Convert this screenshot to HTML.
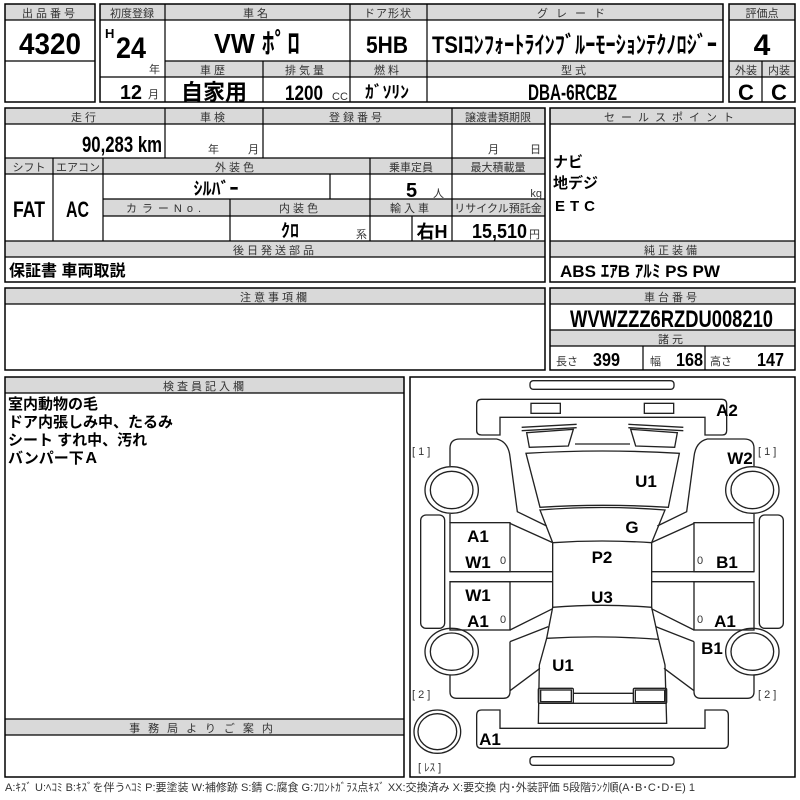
<!DOCTYPE html>
<html><head><meta charset="utf-8"><style>
html,body{margin:0;padding:0;background:#fff;}
svg{display:block}
.h{font-family:"Liberation Sans","Noto Sans CJK JP",sans-serif;font-size:11px;fill:#333;text-anchor:middle;letter-spacing:3px}
.v{font-family:"Liberation Sans Narrow","Liberation Sans","Noto Sans CJK JP",sans-serif;font-weight:bold;fill:#000}
.j{font-family:"Liberation Sans","Noto Sans CJK JP",sans-serif;font-weight:bold;fill:#000}
.s{font-family:"Liberation Sans","Noto Sans CJK JP",sans-serif;font-size:11px;fill:#333}
.c{text-anchor:middle}
.r{text-anchor:end}
.g{fill:#d9d9d9;stroke:none}
.b{fill:none;stroke:#000;stroke-width:1.5}
.l{stroke:#000;stroke-width:1.2}
.car *{fill:none;stroke:#222;stroke-width:4}
.lab{font-family:"Liberation Sans","Noto Sans CJK JP",sans-serif;font-weight:bold;font-size:17px;fill:#000;text-anchor:middle}
</style></head><body>
<svg width="800" height="800" viewBox="0 0 800 800" xmlns="http://www.w3.org/2000/svg">
<!-- Box1 -->
<rect class="g" x="5" y="4" width="90" height="16"/>
<rect class="b" x="5" y="4" width="90" height="98"/>
<line class="l" x1="5" y1="20" x2="95" y2="20"/><line class="l" x1="5" y1="61" x2="95" y2="61"/>
<text class="h" x="50" y="17">出品番号</text>
<text class="v" x="19" y="54" font-size="30" textLength="62" lengthAdjust="spacingAndGlyphs">4320</text>
<!-- Box2 -->
<rect class="g" x="100" y="4" width="623" height="16"/>
<rect class="g" x="165" y="61" width="558" height="16"/>
<rect class="b" x="100" y="4" width="623" height="98"/>
<line class="l" x1="100" y1="20" x2="723" y2="20"/>
<line class="l" x1="165" y1="61" x2="723" y2="61"/>
<line class="l" x1="100" y1="77" x2="723" y2="77"/>
<line class="l" x1="165" y1="4" x2="165" y2="102"/>
<line class="l" x1="350" y1="4" x2="350" y2="102"/>
<line class="l" x1="427" y1="4" x2="427" y2="102"/>
<line class="l" x1="263" y1="61" x2="263" y2="102"/>
<text class="h" x="132" y="17" style="letter-spacing:0">初度登録</text>
<text class="h" x="257" y="17">車名</text>
<text class="h" x="388" y="17" style="letter-spacing:1px">ドア形状</text>
<text class="h" x="575" y="17" style="letter-spacing:8px">グレード</text>
<text class="v" x="105" y="38" font-size="13">H</text>
<text class="v" x="116" y="58" font-size="30" textLength="30" lengthAdjust="spacingAndGlyphs">24</text>
<text class="s" x="149" y="73">年</text>
<text class="v" x="120" y="99" font-size="20" textLength="22" lengthAdjust="spacingAndGlyphs">12</text>
<text class="s" x="148" y="98">月</text>
<text class="v" x="214" y="53" font-size="28" textLength="86" lengthAdjust="spacingAndGlyphs">VW ﾎﾟﾛ</text>
<text class="v" x="366" y="53" font-size="24" textLength="42" lengthAdjust="spacingAndGlyphs">5HB</text>
<text class="v" x="432" y="53" font-size="24" textLength="285" lengthAdjust="spacingAndGlyphs">TSIｺﾝﾌｫｰﾄﾗｲﾝﾌﾞﾙｰﾓｰｼｮﾝﾃｸﾉﾛｼﾞｰ</text>
<text class="h" x="214" y="74">車歴</text>
<text class="h" x="306" y="74">排気量</text>
<text class="h" x="388" y="74">燃料</text>
<text class="h" x="575" y="74">型式</text>
<text class="j c" x="214" y="100" font-size="22">自家用</text>
<text class="v" x="285" y="100" font-size="21" textLength="38" lengthAdjust="spacingAndGlyphs">1200</text>
<text class="s" x="332" y="100" font-size="10">CC</text>
<text class="v" x="365" y="98" font-size="17" textLength="44" lengthAdjust="spacingAndGlyphs">ｶﾞｿﾘﾝ</text>
<text class="v" x="528" y="100" font-size="22" textLength="89" lengthAdjust="spacingAndGlyphs">DBA-6RCBZ</text>
<!-- Box3 -->
<rect class="g" x="729" y="4" width="66" height="16"/>
<rect class="g" x="729" y="61" width="66" height="16"/>
<rect class="b" x="729" y="4" width="66" height="98"/>
<line class="l" x1="729" y1="20" x2="795" y2="20"/><line class="l" x1="729" y1="61" x2="795" y2="61"/><line class="l" x1="729" y1="77" x2="795" y2="77"/>
<line class="l" x1="762" y1="61" x2="762" y2="102"/>
<text class="h" x="762" y="17" style="letter-spacing:0">評価点</text>
<text class="v c" x="762" y="55" font-size="30">4</text>
<text class="h" x="746" y="74" style="letter-spacing:0">外装</text>
<text class="h" x="779" y="74" style="letter-spacing:0">内装</text>
<text class="v c" x="746" y="100" font-size="22">C</text>
<text class="v c" x="779" y="100" font-size="22">C</text>
<!-- Section2 left -->
<rect class="g" x="5" y="108" width="540" height="16"/>
<rect class="g" x="5" y="158" width="540" height="16"/>
<rect class="g" x="103" y="199" width="442" height="17"/>
<rect class="g" x="5" y="241" width="540" height="16"/>
<rect class="b" x="5" y="108" width="540" height="174"/>
<line class="l" x1="5" y1="124" x2="545" y2="124"/>
<line class="l" x1="5" y1="158" x2="545" y2="158"/>
<line class="l" x1="5" y1="174" x2="545" y2="174"/>
<line class="l" x1="103" y1="199" x2="545" y2="199"/>
<line class="l" x1="103" y1="216" x2="545" y2="216"/>
<line class="l" x1="5" y1="241" x2="545" y2="241"/>
<line class="l" x1="5" y1="257" x2="545" y2="257"/>
<line class="l" x1="165" y1="108" x2="165" y2="158"/>
<line class="l" x1="263" y1="108" x2="263" y2="158"/>
<line class="l" x1="452" y1="108" x2="452" y2="241"/>
<line class="l" x1="53" y1="158" x2="53" y2="241"/>
<line class="l" x1="103" y1="158" x2="103" y2="241"/>
<line class="l" x1="370" y1="158" x2="370" y2="241"/>
<line class="l" x1="330" y1="174" x2="330" y2="199"/>
<line class="l" x1="230" y1="199" x2="230" y2="241"/>
<line class="l" x1="412" y1="216" x2="412" y2="241"/>
<text class="h" x="85" y="121">走行</text>
<text class="h" x="214" y="121">車検</text>
<text class="h" x="357" y="121">登録番号</text>
<text class="h" x="498" y="121" style="letter-spacing:0">譲渡書類期限</text>
<text class="v" x="82" y="152" font-size="22" textLength="80" lengthAdjust="spacingAndGlyphs">90,283 km</text>
<text class="s" x="208" y="153">年</text>
<text class="s" x="248" y="153">月</text>
<text class="s" x="488" y="153">月</text>
<text class="s" x="530" y="153">日</text>
<text class="h" x="29" y="171" style="letter-spacing:0">シフト</text>
<text class="h" x="78" y="171" style="letter-spacing:0">エアコン</text>
<text class="h" x="236" y="171">外装色</text>
<text class="h" x="411" y="171" style="letter-spacing:0">乗車定員</text>
<text class="h" x="498" y="171" style="letter-spacing:0">最大積載量</text>
<text class="v" x="13" y="217" font-size="22" textLength="32" lengthAdjust="spacingAndGlyphs">FAT</text>
<text class="v" x="66" y="217" font-size="22" textLength="23" lengthAdjust="spacingAndGlyphs">AC</text>
<text class="v c" x="216" y="195" font-size="18">ｼﾙﾊﾞｰ</text>
<text class="v" x="406" y="197" font-size="20">5</text>
<text class="s" x="433" y="197">人</text>
<text class="s r" x="542" y="197">kg</text>
<text class="h" x="166" y="212" style="letter-spacing:5px">カラーNo.</text>
<text class="h" x="300" y="212">内装色</text>
<text class="h" x="411" y="212">輸入車</text>
<text class="h" x="498" y="212" style="letter-spacing:0">リサイクル預託金</text>
<text class="v c" x="290" y="237" font-size="18">ｸﾛ</text>
<text class="s" x="356" y="238">系</text>
<text class="j c" x="432" y="238" font-size="18">右H</text>
<text class="v" x="472" y="238" font-size="20" textLength="55" lengthAdjust="spacingAndGlyphs">15,510</text>
<text class="s" x="529" y="238">円</text>
<text class="h" x="275" y="254">後日発送部品</text>
<text class="j" x="9" y="276" font-size="16">保証書 車両取説</text>
<!-- Section2 right -->
<rect class="g" x="550" y="108" width="245" height="16"/>
<rect class="g" x="550" y="241" width="245" height="16"/>
<rect class="b" x="550" y="108" width="245" height="174"/>
<line class="l" x1="550" y1="124" x2="795" y2="124"/>
<line class="l" x1="550" y1="241" x2="795" y2="241"/>
<line class="l" x1="550" y1="257" x2="795" y2="257"/>
<text class="h" x="672" y="121" style="letter-spacing:6px">セールスポイント</text>
<text class="j" x="553" y="167" font-size="15" font-weight="normal">ナビ</text>
<text class="j" x="553" y="188" font-size="15">地デジ</text>
<text class="j" x="555" y="211" font-size="15" style="letter-spacing:5px">ETC</text>
<text class="h" x="672" y="254">純正装備</text>
<text class="v" x="560" y="277" font-size="17" textLength="160" lengthAdjust="spacingAndGlyphs">ABS ｴｱB ｱﾙﾐ PS PW</text>
<!-- Section3 -->
<rect class="g" x="5" y="288" width="540" height="16"/>
<rect class="b" x="5" y="288" width="540" height="82"/>
<line class="l" x1="5" y1="304" x2="545" y2="304"/>
<text class="h" x="275" y="301">注意事項欄</text>
<rect class="g" x="550" y="288" width="245" height="16"/>
<rect class="g" x="550" y="330" width="245" height="16"/>
<rect class="b" x="550" y="288" width="245" height="82"/>
<line class="l" x1="550" y1="304" x2="795" y2="304"/>
<line class="l" x1="550" y1="330" x2="795" y2="330"/>
<line class="l" x1="550" y1="346" x2="795" y2="346"/>
<line class="l" x1="643" y1="346" x2="643" y2="370"/>
<line class="l" x1="705" y1="346" x2="705" y2="370"/>
<text class="h" x="672" y="301">車台番号</text>
<text class="v" x="570" y="327" font-size="24" textLength="203" lengthAdjust="spacingAndGlyphs">WVWZZZ6RZDU008210</text>
<text class="h" x="672" y="343">諸元</text>
<text class="s" x="556" y="365">長さ</text>
<text class="v" x="593" y="366" font-size="18" textLength="27" lengthAdjust="spacingAndGlyphs">399</text>
<text class="s" x="650" y="365">幅</text>
<text class="v" x="676" y="366" font-size="18" textLength="27" lengthAdjust="spacingAndGlyphs">168</text>
<text class="s" x="710" y="365">高さ</text>
<text class="v" x="757" y="366" font-size="18" textLength="27" lengthAdjust="spacingAndGlyphs">147</text>
<!-- Section4 -->
<rect class="g" x="5" y="377" width="399" height="16"/>
<rect class="g" x="5" y="719" width="399" height="16"/>
<rect class="b" x="5" y="377" width="399" height="400"/>
<line class="l" x1="5" y1="393" x2="404" y2="393"/>
<line class="l" x1="5" y1="719" x2="404" y2="719"/>
<line class="l" x1="5" y1="735" x2="404" y2="735"/>
<text class="h" x="205" y="390">検査員記入欄</text>
<text class="j" x="8" y="409" font-size="15">室内動物の毛</text>
<text class="j" x="8" y="427" font-size="15">ドア内張しみ中、たるみ</text>
<text class="j" x="8" y="445" font-size="15">シート すれ中、汚れ</text>
<text class="j" x="8" y="463" font-size="15">バンパー下Ａ</text>
<text class="h" x="205" y="732" style="letter-spacing:8px">事務局よりご案内</text>
<rect class="b" x="410" y="377" width="385" height="400"/>
<text class="s" x="5" y="791" font-size="9.5" textLength="690" lengthAdjust="spacingAndGlyphs">A:ｷｽﾞ U:ﾍｺﾐ B:ｷｽﾞを伴うﾍｺﾐ P:要塗装 W:補修跡 S:錆 C:腐食 G:ﾌﾛﾝﾄｶﾞﾗｽ点ｷｽﾞ XX:交換済み X:要交換 内･外装評価 5段階ﾗﾝｸ順(A･B･C･D･E) 1</text>

<!-- Car diagram -->
<svg x="400" y="370" width="400" height="430" viewBox="0 0 1200 1290">
<defs>
<g id="half">
<rect x="62" y="435" width="72" height="340" rx="16"/>
<ellipse cx="155" cy="360" rx="80" ry="70"/><ellipse cx="155" cy="360" rx="64" ry="56"/>
<ellipse cx="155" cy="845" rx="80" ry="70"/><ellipse cx="155" cy="845" rx="64" ry="56"/>
<path d="M150,288 L150,235 Q150,207 180,207 L290,207 Q325,215 330,260 L352,425 L440,468"/>
<path d="M150,432 L150,458"/>
<rect x="150" y="458" width="180" height="147"/>
<path d="M330,460 L458,518"/>
<path d="M150,605 L458,605 M150,635 L458,635"/>
<rect x="150" y="635" width="180" height="145"/>
<path d="M330,780 L458,716"/>
<path d="M330,815 L445,770 M330,815 L330,965 Q330,985 310,985 L170,985 Q150,985 150,965 L150,915 M330,962 L420,895"/>
</g>
</defs>
<g class="car">
<use href="#half"/>
<use href="#half" transform="translate(1212,0) scale(-1,1)"/>
<rect x="390" y="32" width="432" height="26" rx="10"/>
<path d="M245,88 L965,88 Q980,88 980,103 L980,182 Q980,195 967,195 L915,195 L915,142 L300,142 L300,195 L245,195 Q230,195 230,182 L230,103 Q230,88 245,88 Z"/>
<rect x="393" y="100" width="88" height="30"/><rect x="733" y="100" width="88" height="30"/>
<path d="M365,172 L530,163 M365,182 L530,173 M685,163 L850,172 M685,173 L850,182"/>
<path d="M380,188 L520,178 L505,228 L388,232 Z"/>
<path d="M832,188 L692,178 L707,228 L824,232 Z"/>
<path d="M525,222 L690,222"/>
<path d="M378,250 Q606,236 838,250 L805,412 Q606,400 420,412 Z"/>
<path d="M420,420 Q606,405 795,420 L755,518 Q606,508 458,518 Z"/>
<path d="M458,518 L458,712 Q606,700 755,712 L755,518"/>
<path d="M458,712 L440,805 L418,885 L415,1060 L800,1060 L795,885 L775,805 L755,712"/>
<path d="M440,805 Q606,795 775,808"/>
<path d="M415,1000 L800,1000"/>
<rect x="415" y="955" width="105" height="45" rx="4"/><rect x="422" y="960" width="92" height="35"/>
<rect x="700" y="955" width="100" height="45" rx="4"/><rect x="706" y="960" width="88" height="35"/>
<path d="M520,970 L700,970"/>
<path d="M245,1020 L300,1020 L300,1075 L915,1075 L915,1020 L970,1020 Q985,1020 985,1035 L985,1120 Q985,1135 970,1135 L245,1135 Q230,1135 230,1120 L230,1035 Q230,1020 245,1020 Z"/>
<rect x="390" y="1160" width="432" height="26" rx="10"/>
<ellipse cx="112" cy="1085" rx="70" ry="65"/><ellipse cx="112" cy="1085" rx="58" ry="54"/>
</g>
</svg>
<text class="lab" x="727" y="416">A2</text>
<text class="s" x="412" y="455" font-size="15" fill="#000">[ 1 ]</text>
<text class="s" x="758" y="455" font-size="15" fill="#000">[ 1 ]</text>
<text class="lab" x="740" y="464">W2</text>
<text class="lab" x="646" y="487">U1</text>
<text class="lab" x="632" y="533">G</text>
<text class="lab" x="478" y="542">A1</text>
<text class="lab" x="478" y="568">W1</text>
<text class="s" x="500" y="564" font-size="13">0</text>
<text class="lab" x="602" y="563">P2</text>
<text class="s" x="697" y="564" font-size="13">0</text>
<text class="lab" x="727" y="568">B1</text>
<text class="lab" x="478" y="601">W1</text>
<text class="lab" x="602" y="603">U3</text>
<text class="lab" x="478" y="627">A1</text>
<text class="s" x="500" y="623" font-size="13">0</text>
<text class="s" x="697" y="623" font-size="13">0</text>
<text class="lab" x="725" y="627">A1</text>
<text class="lab" x="712" y="654">B1</text>
<text class="lab" x="563" y="671">U1</text>
<text class="s" x="412" y="698" font-size="15" fill="#000">[ 2 ]</text>
<text class="s" x="758" y="698" font-size="15" fill="#000">[ 2 ]</text>
<text class="lab" x="490" y="745">A1</text>
<text class="s" x="418" y="771" font-size="13" fill="#000">[ ﾚｽ ]</text>
</svg>
</body></html>
